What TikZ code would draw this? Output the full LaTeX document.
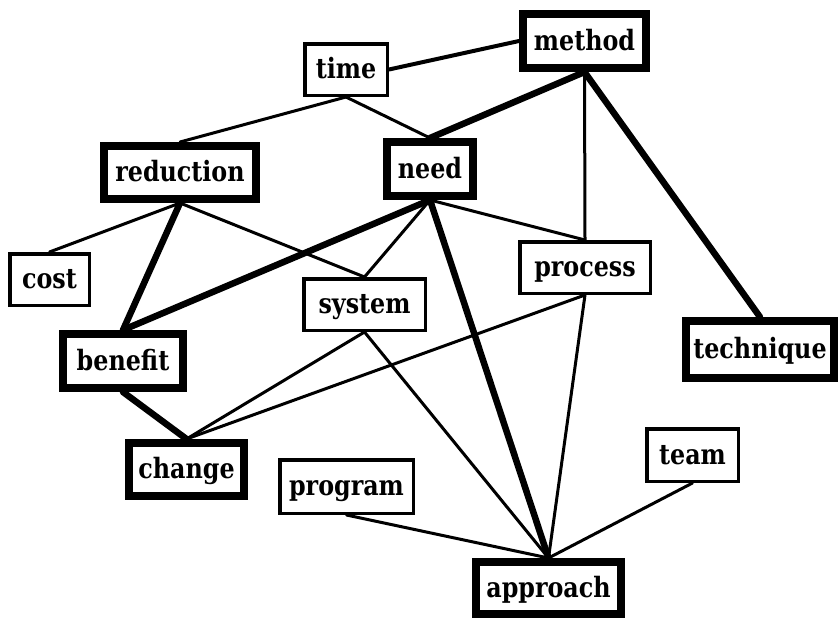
\documentclass[tikz,border=0pt]{standalone}
\usepackage{fontspec}
\newfontfamily\termfont{DejaVu Serif}[FakeStretch=0.85]
\begin{document}
\begin{tikzpicture}[x=1pt,y=-1pt,
  word/.style={draw, rectangle, inner sep=0pt, fill=white,
    font=\termfont\fontsize{28}{28}\selectfont\bfseries, text height=23pt, text depth=5pt},
  key/.style={word, line width=8pt},
  minor/.style={word, line width=3.5pt},
  heavy/.style={line width=6.5pt, line cap=round, line join=round},
  light/.style={line width=3pt, line cap=round, line join=round}]
\useasboundingbox (0,0) rectangle (840,622);

% terms: minimum sizes are the outer box sizes less the border width
\node[key,   minimum width=123, minimum height=54]   (method)    at (584.5,41)    {method};
\node[minor, minimum width=82.5, minimum height=51.5] (time)     at (346,69.5)    {time};
\node[key,   minimum width=86,  minimum height=54]   (need)      at (430,169)     {need};
\node[key,   minimum width=152, minimum height=53]   (reduction) at (180,172.5)   {reduction};
\node[minor, minimum width=79.5, minimum height=51.5] (cost)     at (49.5,279.5)  {cost};
\node[key,   minimum width=120, minimum height=54]   (benefit)   at (123,361)     {benefit};
\node[key,   minimum width=115, minimum height=53]   (change)    at (186.5,469.5) {change};
\node[minor, minimum width=121.5, minimum height=51.5] (system)  at (364.5,304.5) {system};
\node[minor, minimum width=130.5, minimum height=51.5] (process) at (585,267.5)   {process};
\node[key,   minimum width=148, minimum height=57]   (technique) at (760,349.5)   {technique};
\node[minor, minimum width=91.5, minimum height=52.5] (team)     at (692.5,455)   {team};
\node[minor, minimum width=133.5, minimum height=53.5] (program) at (346.5,486.5) {program};
\node[key,   minimum width=145, minimum height=52]   (approach)  at (548.5,588)   {approach};

% links between the terms
\draw[light, line width=4pt] (time.east) -- (method.west);
\draw[light] (time.south) -- (need.north);
\draw[light] (time.south) -- (reduction.north);
\draw[heavy] (method.south) -- (need.north);
\draw[light] (method.south) -- (process.north);
\draw[heavy] (method.south) -- (technique.north);

\draw[light] (reduction.south) -- (cost.north);
\draw[heavy] (reduction.south) -- (benefit.north);
\draw[light] (reduction.south) -- (system.north);

\draw[heavy] (need.south) -- (benefit.north);
\draw[light] (need.south) -- (system.north);
\draw[heavy] (need.south) -- (approach.north);
\draw[light] (need.south) -- (process.north);

\draw[heavy] (benefit.south) -- (change.north);
\draw[light] (change.north) -- (system.south);
\draw[light] (change.north) -- (process.south);

\draw[light] (system.south) -- (approach.north);
\draw[light] (process.south) -- (approach.north);
\draw[light] (program.south) -- (approach.north);
\draw[light] (team.south) -- (approach.north);
\end{tikzpicture}
\end{document}
